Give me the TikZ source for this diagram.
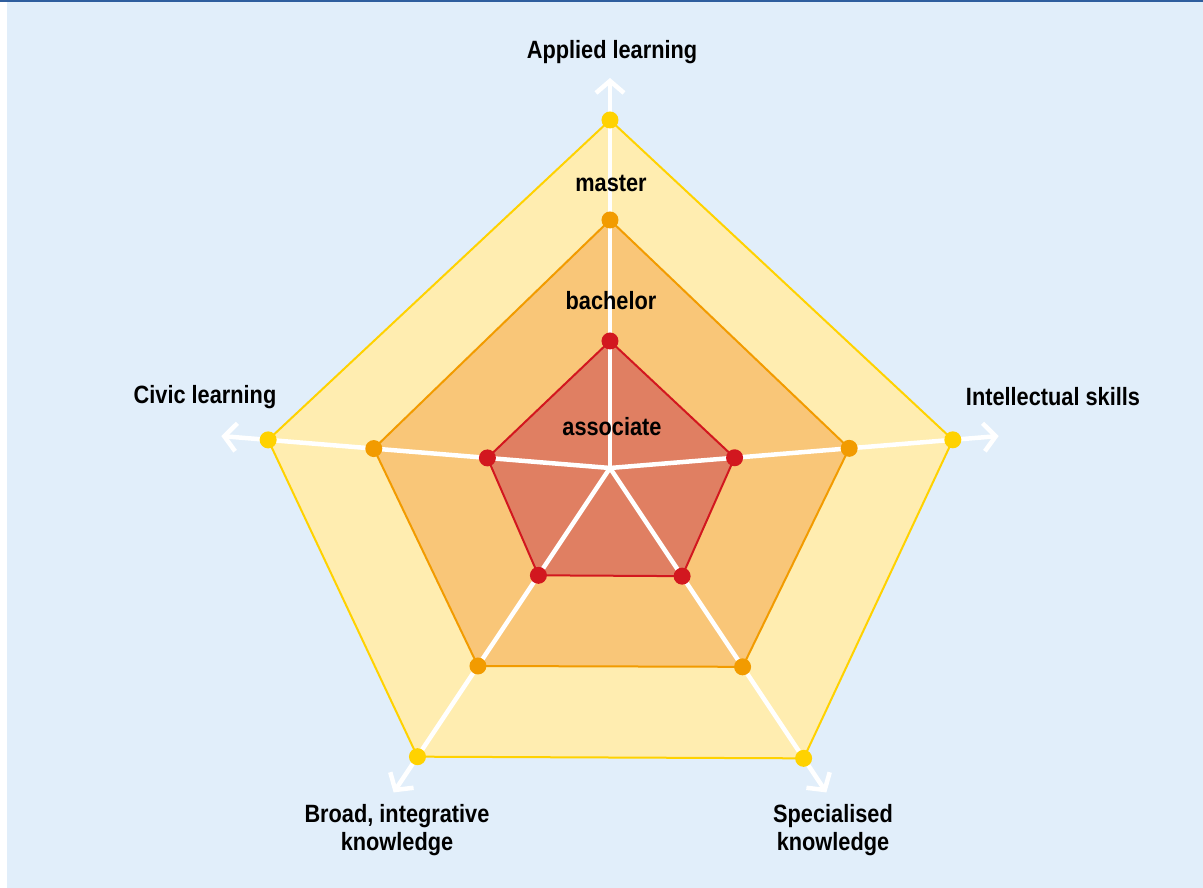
\documentclass[tikz,border=0pt]{standalone}
\usepackage{fontspec}
\setmainfont{Liberation Sans}[FakeStretch=0.87]
\usetikzlibrary{arrows.meta}

\definecolor{bgblue}{HTML}{E1EEFA}
\definecolor{frameblue}{HTML}{2F5E9E}
\definecolor{yellowline}{HTML}{FFD200}
\definecolor{yellowfill}{HTML}{FFEDB0}
\definecolor{orangeline}{HTML}{F29B00}
\definecolor{orangefill}{HTML}{F9C678}
\definecolor{redline}{HTML}{D2171F}
\definecolor{redfill}{HTML}{E07F62}

\begin{document}
\begin{tikzpicture}[x=1pt,y=1pt,>={Straight Barb[length=12pt,width=28pt]},
                    font=\fontsize{25}{28}\selectfont\bfseries]

  \tikzstyle{dot}=[circle,inner sep=0pt,minimum size=17pt]
  \tikzstyle{axis}=[->,draw=white,line width=4.5pt]
  \tikzstyle{level}=[line width=2pt,line join=miter]
  \tikzstyle{caption}=[align=center,inner sep=0pt]

  \useasboundingbox (-610,-420) rectangle (593,468);
  \fill[bgblue] (-603,-420) rectangle (593,466);
  \draw[frameblue,line width=2pt] (-610,467) -- (593,467);

  % corners of the three levels and the ends of the axes
  \coordinate (C) at (0,0);
  \foreach \a/\r/\o/\y [count=\i] in {90/127/248/348, 4.7/125/240/344,
      -56.3/130/239/349, -123.7/129/238/347, 175.3/123/237/343} {
    \coordinate (Y\i) at (\a:\y);
    \coordinate (O\i) at (\a:\o);
    \coordinate (R\i) at (\a:\r);
    \coordinate (E\i) at (\a:390);
  }

  \filldraw[level,fill=yellowfill,draw=yellowline]
    (Y1) -- (Y2) -- (Y3) -- (Y4) -- (Y5) -- cycle;
  \filldraw[level,fill=orangefill,draw=orangeline]
    (O1) -- (O2) -- (O3) -- (O4) -- (O5) -- cycle;
  \filldraw[level,fill=redfill,draw=redline]
    (R1) -- (R2) -- (R3) -- (R4) -- (R5) -- cycle;

  \foreach \i in {1,...,5}
    \draw[axis] (C) -- (E\i);

  \foreach \i in {1,...,5} {
    \node[dot,fill=yellowline] (y\i) at (Y\i) {};
    \node[dot,fill=orangeline] (o\i) at (O\i) {};
    \node[dot,fill=redline]    (r\i) at (R\i) {};
  }

  \node[caption] (master)    at (1,285) {master};
  \node[caption] (bachelor)  at (1,167) {bachelor};
  \node[caption] (associate) at (2,41)  {associate};

  \node[caption] (al) at (2,416)     {Applied learning};
  \node[caption] (is) at (443,71)    {Intellectual skills};
  \node[caption] (cl) at (-405,71)   {Civic learning};
  \node[caption] (bk) at (-213,-362) {Broad, integrative\\knowledge};
  \node[caption] (sk) at (223,-362)  {Specialised\\knowledge};

\end{tikzpicture}
\end{document}
